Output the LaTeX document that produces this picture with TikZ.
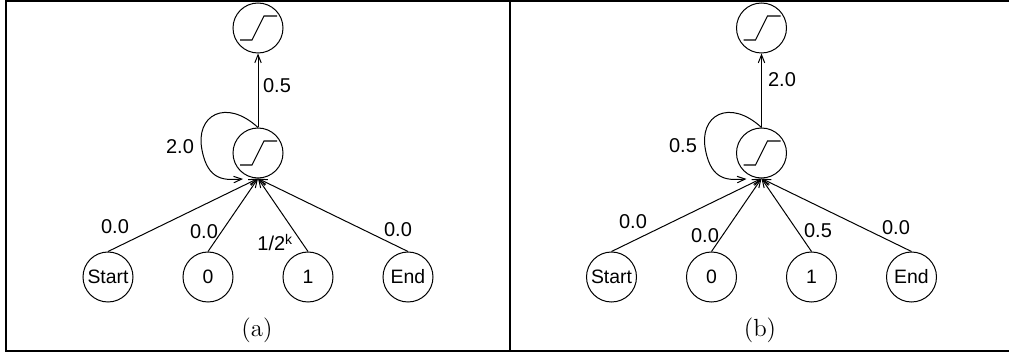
\documentclass[tikz,border=0pt]{standalone}
\usepackage{fontspec}
\newfontfamily\lab{Liberation Sans}
\usetikzlibrary{arrows.meta}
\begin{document}
\begin{tikzpicture}[x=0.5pt,y=-0.5pt,
  neuron/.style={circle,draw,line width=0.5pt,minimum size=25pt,inner sep=0pt,font=\lab\fontsize{9.7}{11}\selectfont},
  sig/.style={path picture={\draw[line width=0.55pt] ([shift={(-18,12)}]path picture bounding box.center) -- ++(12,0) -- ++(12,-24) -- ++(13,0);}},
  arr/.style={line width=0.5pt,-{Straight Barb[length=4pt,width=3.2pt]}},
  wlab/.style={font=\lab\fontsize{10}{12}\selectfont,inner sep=0pt},
  captext/.style={font=\fontsize{12.4}{14}\selectfont,inner sep=0pt},
  framestyle/.style={line width=1pt}]
\useasboundingbox (0,0) rectangle (1009,353);
\draw[framestyle] (1009,1) -- (6,1) -- (6,351) -- (1009,351);
\draw[framestyle] (510,1) -- (510,351);

% panel (a)
\begin{scope}[name prefix=a-]
\node[neuron,sig] (top) at (258,28) {};
\node[neuron,sig] (mid) at (258,153) {};
\node[neuron] (s) at (108,277) {Start};
\node[neuron] (z) at (208,277) {0};
\node[neuron] (o) at (308,277) {1};
\node[neuron] (e) at (408,277) {End};
\draw[arr] (mid) -- (top);
\draw[arr] (s.north) -- (mid.south);
\draw[arr] (z.north) -- (mid.south);
\draw[arr] (o.north) -- (mid.south);
\draw[arr] (e.north) -- (mid.south);
\coordinate (le) at (243,179);
\draw[arr] (mid.north) .. controls (226,98) and (195,115) .. (202,150) .. controls (208,182) and (226,180) .. (le);
\node[wlab] (wt) at (277,86) {0.5};
\node[wlab] (wl) at (180,147) {2.0};
\node[wlab] (w1) at (115,227) {0.0};
\node[wlab] (w2) at (204,232) {0.0};
\node[wlab,anchor=base west] (w3) at (257,251) {1/2\raisebox{3pt}{\fontsize{7}{8}\selectfont k}};
\node[wlab] (w4) at (398,230) {0.0};
\node[captext] (c) at (257,330) {(a)};
\end{scope}

% panel (b)
\begin{scope}[shift={(503.5,0)},name prefix=b-]
\node[neuron,sig] (top) at (258,28) {};
\node[neuron,sig] (mid) at (258,153) {};
\node[neuron] (s) at (108,277) {Start};
\node[neuron] (z) at (208,277) {0};
\node[neuron] (o) at (308,277) {1};
\node[neuron] (e) at (408,277) {End};
\draw[arr] (mid) -- (top);
\draw[arr] (s.north) -- (mid.south);
\draw[arr] (z.north) -- (mid.south);
\draw[arr] (o.north) -- (mid.south);
\draw[arr] (e.north) -- (mid.south);
\coordinate (le) at (243,179);
\draw[arr] (mid.north) .. controls (226,98) and (195,115) .. (202,150) .. controls (208,182) and (226,180) .. (le);
\node[wlab] (wt) at (278.5,80) {2.0};
\node[wlab] (wl) at (179.5,146) {0.5};
\node[wlab] (w1) at (129.5,222) {0.0};
\node[wlab] (w2) at (201.5,236) {0.0};
\node[wlab] (w3) at (314.5,231) {0.5};
\node[wlab] (w4) at (392.5,228) {0.0};
\node[captext] (c) at (256.5,330) {(b)};
\end{scope}
\end{tikzpicture}
\end{document}
